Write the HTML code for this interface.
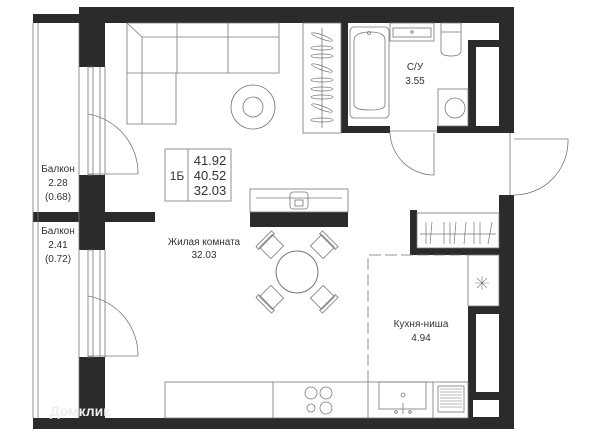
<!DOCTYPE html>
<html><head><meta charset="utf-8"><style>
html,body{margin:0;padding:0;background:#fff;}
svg{display:block;}
text{font-family:"Liberation Sans",sans-serif;fill:#333;font-size:10px;text-anchor:middle;}
</style></head><body>
<svg width="600" height="440" viewBox="0 0 600 440" xmlns="http://www.w3.org/2000/svg">
<g fill="#2b2b2b">
<rect x="79" y="7" width="435" height="16"/>
<rect x="33" y="14" width="46" height="9"/>
<rect x="79" y="23" width="26" height="44"/>
<rect x="79" y="175" width="26" height="75"/>
<rect x="33" y="212" width="122" height="10"/>
<rect x="79" y="357" width="26" height="62"/>
<rect x="33" y="418" width="481" height="11"/>
<rect x="250" y="212" width="98" height="15"/>
<rect x="341" y="23" width="7" height="110"/>
<rect x="341" y="126" width="49" height="7"/>
<rect x="437" y="126" width="39" height="7"/>
<rect x="468" y="40" width="31" height="93"/>
<rect x="499" y="7" width="15" height="126"/>
<rect x="499" y="195" width="15" height="224"/>
<rect x="410" y="210" width="7" height="45"/>
<rect x="410" y="248" width="89" height="7"/>
<rect x="468" y="306" width="31" height="113"/>
</g>
<g fill="#fff">
<rect x="476" y="47" width="23" height="79"/>
<rect x="476" y="314" width="23" height="78"/>
<rect x="473" y="400" width="26" height="17"/>
</g>
<g fill="none" stroke="#777" stroke-width="0.8">
<line x1="33" y1="23" x2="33" y2="418"/><line x1="38" y1="23" x2="38" y2="418"/>
<line x1="79" y1="23" x2="79" y2="418"/>
<rect x="88" y="67" width="5" height="108"/><line x1="100" y1="67" x2="100" y2="175"/><line x1="105" y1="67" x2="105" y2="175"/>
<line x1="88" y1="174" x2="138" y2="174"/><path d="M88 114 A60 60 0 0 1 138 174"/>
<rect x="88" y="250" width="5" height="107"/><line x1="100" y1="250" x2="100" y2="357"/><line x1="105" y1="250" x2="105" y2="357"/>
<line x1="88" y1="356" x2="138" y2="356"/><path d="M88 296 A60 60 0 0 1 138 356"/>
<path d="M127 23 H279 V73 H176 V124 H127 Z"/>
<line x1="127" y1="23" x2="142" y2="37"/><line x1="142" y1="37" x2="279" y2="37"/><line x1="142" y1="37" x2="142" y2="124"/>
<line x1="127" y1="73" x2="176" y2="73"/><line x1="177" y1="23" x2="177" y2="73"/><line x1="228" y1="23" x2="228" y2="73"/>
<circle cx="253" cy="107" r="22"/><circle cx="253" cy="107" r="10"/>
<rect x="165" y="149" width="66" height="52"/><line x1="188" y1="149" x2="188" y2="201"/>
<rect x="250" y="189" width="98" height="23"/>
<line x1="256" y1="198" x2="342" y2="198"/>
<rect x="290" y="192" width="18" height="17" rx="3"/><rect x="295" y="200" width="8" height="6"/>
<rect x="303" y="23" width="38" height="110"/><line x1="322" y1="28" x2="322" y2="128"/>
<g stroke-width="0.7">
<ellipse cx="322" cy="37" rx="11" ry="2" transform="rotate(20 322 37)"/>
<ellipse cx="322" cy="48" rx="11" ry="2"/><ellipse cx="322" cy="56" rx="11" ry="2"/>
<ellipse cx="322" cy="68" rx="11" ry="2" transform="rotate(20 322 68)"/>
<ellipse cx="322" cy="80" rx="11" ry="2"/><ellipse cx="322" cy="89" rx="11" ry="2"/><ellipse cx="322" cy="97" rx="11" ry="2"/>
<ellipse cx="322" cy="108" rx="11" ry="2" transform="rotate(20 322 108)"/><ellipse cx="322" cy="120" rx="11" ry="2"/>
</g>
<rect x="350" y="27" width="39" height="91" rx="4"/>
<path d="M354 40 Q355 32 370 32 Q385 32 385 40 V105 Q385 110 370 110 Q355 110 354 105 Z"/>
<circle cx="369" cy="33" r="1.5"/>
<rect x="390" y="23" width="44" height="18"/><rect x="393" y="28" width="38" height="9"/>
<circle cx="412" cy="32" r="1.2"/>
<path d="M441 23 H461 V51 Q461 56 451 56 Q441 56 441 51 Z"/><line x1="441" y1="32" x2="461" y2="32"/>
<rect x="438" y="89" width="30" height="37"/><circle cx="455" cy="108" r="10"/>
<line x1="390" y1="131" x2="437" y2="131"/><line x1="434" y1="133" x2="434" y2="175"/><path d="M390 133 A44 44 0 0 0 434 175"/>
<line x1="510" y1="133" x2="510" y2="195"/><line x1="514" y1="139" x2="568" y2="139"/><line x1="568" y1="139" x2="568" y2="143"/>
<path d="M568 142 A54 54 0 0 1 514 195"/>
<circle cx="297" cy="272" r="21" stroke-width="1"/>
<g transform="translate(297 272)">
<g transform="rotate(45)"><rect x="-9" y="-44" width="18" height="16"/><rect x="-11" y="-47" width="22" height="4"/></g>
<g transform="rotate(135)"><rect x="-9" y="-44" width="18" height="16"/><rect x="-11" y="-47" width="22" height="4"/></g>
<g transform="rotate(225)"><rect x="-9" y="-44" width="18" height="16"/><rect x="-11" y="-47" width="22" height="4"/></g>
<g transform="rotate(315)"><rect x="-9" y="-44" width="18" height="16"/><rect x="-11" y="-47" width="22" height="4"/></g>
</g>
<rect x="417" y="213" width="82" height="35"/><line x1="420" y1="234" x2="496" y2="234"/>
<g stroke-width="0.7">
<line x1="426" y1="222" x2="426" y2="244"/><line x1="432" y1="222" x2="430" y2="244"/><line x1="444" y1="222" x2="444" y2="244"/><line x1="450" y1="222" x2="450" y2="244"/><line x1="456" y1="222" x2="454" y2="244"/><line x1="466" y1="222" x2="464" y2="244"/><line x1="474" y1="222" x2="474" y2="244"/><line x1="480" y1="222" x2="480" y2="244"/><line x1="492" y1="222" x2="488" y2="244"/>
</g>
<rect x="468" y="255" width="31" height="51"/>
<path d="M475 283 H489 M482 276 V290 M477 278 L487 288 M487 278 L477 288" stroke-width="0.6"/>
<path d="M368 382 V255 H468" stroke-dasharray="12 4"/>
<rect x="165" y="382" width="303" height="36"/>
<line x1="273" y1="382" x2="273" y2="418"/><line x1="368" y1="382" x2="368" y2="418"/><line x1="433" y1="382" x2="433" y2="418"/>
<circle cx="311" cy="393" r="6"/><circle cx="326" cy="393" r="6"/><circle cx="311" cy="408" r="4"/><circle cx="326" cy="408" r="6"/>
<rect x="379" y="382" width="47" height="27"/><line x1="403" y1="403" x2="403" y2="414"/><circle cx="403" cy="395" r="2"/><circle cx="396" cy="412" r="1.3"/><circle cx="410" cy="412" r="1.3"/>
<rect x="438" y="386" width="26" height="26"/>
<path d="M440 389 H462 M440 392 H462 M440 395 H462 M440 398 H462 M440 401 H462 M440 404 H462 M440 407 H462" stroke-width="0.6"/>
</g>
<text x="58" y="172">Балкон</text><text x="58" y="186">2.28</text><text x="58" y="200">(0.68)</text>
<text x="58" y="234">Балкон</text><text x="58" y="248">2.41</text><text x="58" y="262">(0.72)</text>
<text x="204" y="245">Жилая комната</text><text x="204" y="258">32.03</text>
<text x="415" y="70">С/У</text><text x="415" y="84">3.55</text>
<text x="421" y="327">Кухня-ниша</text><text x="421" y="341">4.94</text>
<text x="177" y="180" style="font-size:12px">1Б</text>
<text x="210" y="165" style="font-size:13px">41.92</text>
<text x="210" y="180" style="font-size:13px">40.52</text>
<text x="210" y="195" style="font-size:13px">32.03</text>
<text x="80" y="416" style="font-size:14px;fill:#eee;font-weight:bold">Домклик</text>
</svg>
</body></html>
